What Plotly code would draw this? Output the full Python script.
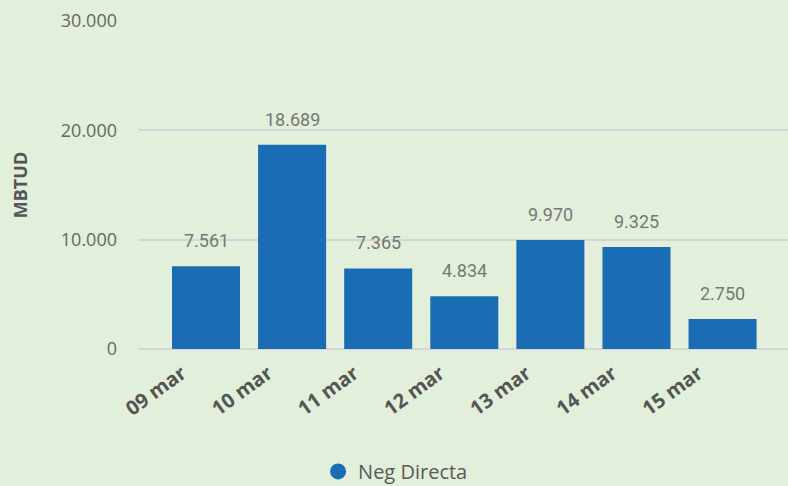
import plotly.graph_objects as go

categories = ["09 mar", "10 mar", "11 mar", "12 mar", "13 mar", "14 mar", "15 mar"]
values = [7561, 18689, 7365, 4834, 9970, 9325, 2750]
series_name = "Neg Directa"
y_ticks = [0, 10000, 20000, 30000]

bar_color = "#1A6CB4"
bg = "#E2EFDA"

fig = go.Figure()
fig.add_trace(go.Bar(
    x=categories, y=values, name=series_name,
    marker=dict(color=bar_color, line=dict(width=0)),
    width=0.79, showlegend=False,
))
fig.add_trace(go.Scatter(
    x=[None], y=[None], mode="markers", name=series_name,
    marker=dict(symbol="circle", size=20, color=bar_color),
))

for c, v in zip(categories, values):
    fig.add_annotation(
        x=c, y=v, text=f"{v:,}".replace(",", "."), showarrow=False,
        yanchor="bottom", yshift=13,
        font=dict(family="Roboto", size=18, color="#777777"),
    )

fig.update_layout(
    width=788, height=486,
    paper_bgcolor=bg, plot_bgcolor=bg,
    separators=",.",
    margin=dict(l=138, r=0, t=21, b=137, autoexpand=False),
    font=dict(family="Open Sans", color="#666666"),
    legend=dict(orientation="h", xref="container", x=0.502, xanchor="center",
                yref="container", y=0.03, yanchor="middle",
                font=dict(size=20, color="#595959"), itemsizing="trace",
                itemwidth=30, bgcolor="rgba(0,0,0,0)"),
    xaxis=dict(
        type="category", range=[-0.79, 6.76],
        tickangle=-36, showgrid=False, ticks="",
        tickfont=dict(family="Open Sans", size=20, color="#555555", weight="bold"),
        ticklabelshift=-24, ticklabelstandoff=8,
        showline=False, zeroline=False,
    ),
    yaxis=dict(
        range=[0, 30000], tickvals=y_ticks, tickformat=",d",
        showgrid=True, gridcolor="#D6D6D6", gridwidth=2,
        zeroline=True, zerolinecolor="#D6D6D6", zerolinewidth=2,
        tickfont=dict(family="Open Sans", size=18, color="#666666"),
        ticks="", ticklen=0, ticklabelstandoff=20,
        title=dict(text="MBTUD", font=dict(family="Open Sans", size=18, color="#555555", weight="bold"), standoff=28),
    ),
)

fig.write_html("out.html", config={"displayModeBar": False},
               post_script="document.body.style.margin='0';document.body.style.background='#E2EFDA';")
